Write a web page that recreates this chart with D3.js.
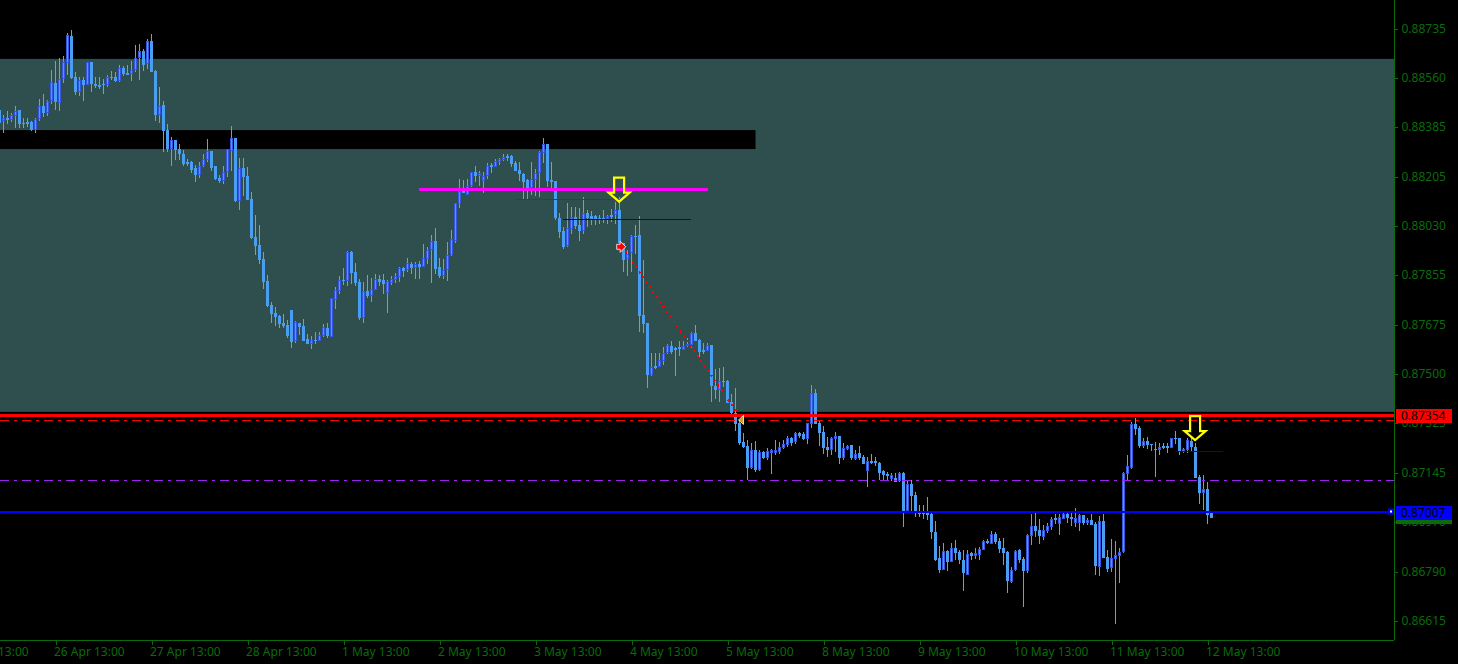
<!DOCTYPE html>
<html><head><meta charset="utf-8">
<script src="https://cdn.jsdelivr.net/npm/d3@7/dist/d3.min.js"></script>
<style>html,body{margin:0;padding:0;background:#000;overflow:hidden}svg{display:block}</style>
</head><body><svg id="c" width="1458" height="664"></svg>
<script>
// Prices are stored in 1e-5 units (88735 = 0.88735), one entry per hourly bar.
const opens=[88445,88406,88418,88409,88424,88445,88399,88402,88402,88373,88414,88459,88435,88476,88540,88471,88557,88614,88710,88562,88509,88552,88535,88617,88538,88534,88538,88535,88563,88563,88550,88595,88576,88575,88587,88630,88656,88611,88691,88584,88428,88463,88375,88305,88337,88304,88287,88258,88258,88237,88212,88244,88266,88298,88244,88201,88189,88223,88299,88344,88120,88237,88208,88125,87989,87961,87911,87832,87746,87717,87707,87682,87674,87728,87616,87682,87671,87624,87606,87623,87618,87635,87664,87633,87764,87796,87836,87832,87936,87864,87828,87700,87796,87778,87802,87839,87836,87789,87825,87836,87848,
87879,87872,87893,87879,87892,87884,87913,87944,87976,87883,87851,87872,87925,87977,88108,88161,88142,88171,88223,88209,88192,88209,88247,88242,88260,88267,88280,88280,88255,88230,88216,88193,88165,88194,88218,88292,88323,88194,88191,88058,88012,87958,88020,88061,88033,88013,88075,88065,88065,88058,88058,88055,88069,88069,88087,87970,87910,87932,87994,87997,87711,87682,87496,87528,87526,87547,87574,87600,87591,87595,87587,87600,87603,87646,87621,87585,87583,87603,87456,87442,87474,87474,
87399,87359,87323,87256,87242,87163,87227,87156,87220,87199,87215,87215,87220,87234,87246,87270,87256,87287,87285,87267,87320,87430,87323,87292,87237,87227,87267,87277,87199,87231,87244,87195,87216,87202,87152,87188,87188,87181,87152,87141,87123,87127,87116,87145,87009,87105,87066,87009,87005,87002,86998,86934,86840,86797,86865,86826,86876,86862,86833,86779,86858,86848,86851,86869,86901,86891,86926,86901,86876,86862,86754,86797,86869,86837,86794,86919,86955,86941,86916,86937,86951,86984,86962,86980,86998,86987,86966,86966,86994,86966,86977,
86962,86810,86972,86843,86805,86838,86849,86862,87143,87162,87321,87306,87243,87259,87248,87231,87227,87242,87242,87236,87269,87269,87219,87229,87260,87237,87130,87075,87087,87001];
const closes=[88397,88418,88409,88426,88443,88394,88394,88394,88373,88411,88461,88435,88476,88545,88473,88557,88617,88713,88559,88509,88552,88535,88617,88538,88531,88527,88534,88562,88558,88549,88594,88574,88570,88587,88630,88658,88607,88691,88582,88427,88461,88371,88304,88337,88301,88287,88251,88251,88230,88212,88246,88268,88297,88237,88199,88189,88224,88304,88344,88119,88236,88205,88122,87986,87957,87907,87830,87743,87715,87703,87678,87671,87635,87614,87685,87667,87618,87606,87621,87617,87639,87667,87635,87771,87800,87836,87831,87936,87861,87825,87700,87796,87778,87803,87839,87828,87821,87832,87839,87850,87879,
87867,87896,87879,87893,87883,87914,87944,87975,87876,87851,87872,87925,87983,88111,88154,88147,88171,88223,88209,88218,88208,88243,88240,88262,88268,88276,88274,88251,88228,88216,88188,88165,88197,88218,88294,88323,88192,88187,88058,88008,87953,88021,88061,88030,88012,88075,88057,88056,88056,88056,88055,88064,88062,88087,87968,87908,87930,87994,87990,87707,87679,87496,87525,87521,87550,87574,87603,87578,87587,87589,87599,87607,87645,87618,87578,87579,87605,87456,87442,87473,87471,87397,
87359,87320,87254,87238,87163,87227,87156,87220,87199,87222,87227,87227,87237,87249,87270,87254,87287,87277,87267,87323,87430,87320,87288,87234,87227,87270,87277,87199,87234,87242,87199,87213,87199,87177,87188,87181,87181,87145,87138,87134,87138,87113,87145,87009,87105,87062,87000,86998,86998,86994,86934,86833,86797,86865,86826,86876,86858,86833,86787,86855,86848,86858,86873,86901,86894,86926,86898,86873,86858,86758,86797,86865,86833,86794,86923,86955,86937,86919,86941,86955,86980,86977,86987,86998,86984,86980,86984,86994,86966,86977,86959,
86812,86972,86841,86802,86841,86850,86861,87144,87169,87321,87304,87242,87259,87247,87244,87227,87237,87236,87236,87269,87266,87224,87230,87262,87237,87128,87075,87087,86995,86984];
const highs=[88445,88426,88440,88435,88459,88445,88416,88416,88406,88416,88484,88502,88480,88588,88620,88632,88638,88719,88731,88581,88562,88562,88617,88617,88562,88562,88557,88569,88584,88582,88605,88602,88606,88621,88676,88681,88664,88698,88717,88588,88527,88477,88394,88348,88337,88323,88301,88268,88262,88249,88258,88286,88341,88298,88244,88212,88244,88304,88387,88344,88273,88273,88240,88151,88068,88033,87936,87854,87757,87740,87710,87714,87692,87728,87689,87682,87696,87642,87635,87649,87649,87678,87682,87771,87811,87850,87879,87940,87940,87897,87839,87828,87854,87843,87857,87854,87857,87836,87850,87861,87883,
87884,87915,87901,87901,87905,87965,87953,87999,88022,87916,87910,87972,88015,88111,88197,88194,88197,88223,88245,88228,88224,88255,88254,88271,88273,88288,88288,88284,88264,88259,88221,88199,88259,88233,88297,88345,88323,88259,88191,88075,88027,88111,88096,88096,88094,88132,88087,88082,88068,88070,88087,88070,88092,88114,88135,87970,87944,87996,88033,88065,87908,87682,87574,87574,87576,87597,87606,87619,87597,87619,87619,87627,87650,87675,87624,87609,87609,87603,87519,87521,87525,87478,
87428,87449,87335,87287,87263,87251,87259,87227,87225,87234,87232,87263,87256,87263,87277,87273,87292,87293,87293,87325,87460,87446,87335,87313,87275,87275,87292,87277,87251,87244,87244,87227,87242,87211,87201,87213,87201,87184,87156,87148,87144,87144,87148,87148,87120,87120,87077,87030,87030,87059,87005,86973,86883,86893,86869,86893,86905,86869,86869,86869,86862,86876,86879,86905,86910,86936,86935,86912,86912,86865,86808,86869,86873,86845,86925,86998,87000,86979,86957,86965,86986,86998,86998,87003,87005,87000,87019,86998,86994,86984,86998,
86971,86991,86998,86869,86908,86900,86875,87150,87210,87329,87341,87313,87269,87273,87249,87257,87254,87254,87251,87270,87296,87269,87235,87272,87269,87251,87138,87138,87113,87001];
const lows=[88383,88363,88394,88402,88380,88380,88380,88383,88371,88363,88406,88421,88423,88466,88445,88442,88543,88570,88557,88500,88495,88477,88535,88509,88523,88521,88502,88528,88554,88545,88545,88566,88570,88547,88582,88552,88586,88593,88581,88406,88399,88294,88295,88244,88266,88266,88246,88246,88218,88187,88201,88242,88258,88227,88196,88182,88180,88206,88225,88116,88086,88137,88122,87984,87926,87893,87805,87740,87683,87673,87663,87666,87630,87592,87611,87639,87617,87606,87588,87606,87616,87633,87628,87632,87732,87786,87818,87814,87821,87814,87692,87682,87771,87757,87800,87814,87786,87717,87818,87824,87828,
87848,87865,87858,87841,87841,87884,87893,87827,87858,87842,87839,87834,87922,87970,88094,88147,88140,88168,88187,88173,88149,88197,88221,88242,88249,88261,88264,88242,88225,88192,88128,88125,88140,88137,88135,88254,88168,88159,88051,87987,87948,87956,88001,88020,87975,88001,88027,88032,88034,88037,88039,88037,88044,88037,87968,87866,87851,87866,87929,87650,87648,87449,87492,87519,87523,87532,87571,87571,87492,87564,87585,87597,87591,87616,87562,87571,87581,87399,87411,87399,87454,87394,
87353,87297,87246,87233,87120,87158,87150,87151,87194,87191,87141,87211,87213,87230,87239,87242,87249,87269,87263,87249,87306,87320,87242,87213,87202,87209,87221,87177,87191,87227,87191,87191,87191,87177,87096,87177,87170,87120,87120,87117,87117,87113,87113,86953,87009,87009,86986,86988,86979,86977,86910,86831,86788,86797,86793,86826,86833,86819,86723,86779,86833,86838,86833,86869,86891,86891,86891,86857,86815,86716,86752,86793,86821,86666,86788,86887,86917,86891,86905,86929,86941,86962,86923,86979,86965,86955,86953,86937,86957,86957,86959,
86780,86776,86841,86792,86792,86604,86752,86857,87120,87158,87282,87235,87233,87232,87222,87132,87211,87230,87218,87233,87249,87211,87216,87216,87224,87127,87034,87013,86962,86984];

const priceTicks=[88735,88560,88385,88205,88030,87855,87675,87500,87325,87145,86970,86790,86615];
const timeBars=[-10,14,38,62,86,110,134,158,182,206,230,254,278,302];
const timeLabels=["25 Apr 13:00","26 Apr 13:00","27 Apr 13:00","28 Apr 13:00","1 May 13:00","2 May 13:00","3 May 13:00","4 May 13:00","5 May 13:00","8 May 13:00","9 May 13:00","10 May 13:00","11 May 13:00","12 May 13:00"];

const zoneTop=88628, zoneBottom=87364, gapTop=88373, gapBottom=88305, gapEndBar=189;
const resistance=87354, support=87007, dashRed=87332, dashPurple=87118;

const x=d3.scaleLinear().domain([0,303]).range([-0.5,1211.5]);
const y=d3.scaleLinear().domain([88735,86615]).range([29,621]);
const plotW=1394, plotH=640;
const axisColor="#0b6b0b", wickColor="#6c9bf0", bodyColor="#4a9ef2", rimColor="#3357e0";
const font="'Noto Sans'";

const svg=d3.select("#c");
svg.append("rect").attr("width",1458).attr("height",664).attr("fill","#000");
const plot=svg.append("g");
plot.append("rect").attr("x",0).attr("width",plotW).attr("y",y(zoneTop)).attr("height",y(zoneBottom)-y(zoneTop)).attr("fill","#2f4f4f");
plot.append("rect").attr("x",0).attr("width",x(gapEndBar)).attr("y",y(gapTop)).attr("height",y(gapBottom)-y(gapTop)).attr("fill","#000");

// candles
const bars=d3.range(opens.length);
const cg=plot.append("g").attr("shape-rendering","crispEdges");
cg.selectAll("rect.w").data(bars).join("rect").attr("class","w")
  .attr("x",i=>x(i)-0.5).attr("width",1)
  .attr("y",i=>Math.round(y(highs[i]))).attr("height",i=>Math.max(1,Math.round(y(lows[i]))-Math.round(y(highs[i]))))
  .attr("fill",wickColor);
const bodyTop=i=>Math.round(y(Math.max(opens[i],closes[i])));
const bodyBot=i=>Math.round(y(Math.min(opens[i],closes[i])));
cg.selectAll("rect.b").data(bars).join("rect").attr("class","b")
  .attr("x",i=>x(i)-1.5).attr("width",3)
  .attr("y",bodyTop).attr("height",i=>Math.max(1,bodyBot(i)-bodyTop(i)))
  .attr("fill",i=>closes[i]>opens[i]?rimColor:bodyColor);
cg.selectAll("rect.i").data(bars.filter(i=>closes[i]>opens[i]&&bodyBot(i)-bodyTop(i)>2)).join("rect").attr("class","i")
  .attr("x",i=>x(i)-0.5).attr("width",1)
  .attr("y",i=>bodyTop(i)+1).attr("height",i=>bodyBot(i)-bodyTop(i)-2)
  .attr("fill",bodyColor);

// thin trend objects
const seg=(b0,p0,b1,p1,col,w,dash)=>plot.append("line").attr("x1",x(b0)).attr("x2",x(b1)).attr("y1",y(p0)).attr("y2",y(p1)).attr("stroke",col).attr("stroke-width",w).attr("stroke-dasharray",dash||null);
seg(128.9,88125,156.9,88125,"#c80000",1).attr("shape-rendering","crispEdges");
seg(140.9,88053,172.9,88053,"#0000c8",1).attr("shape-rendering","crispEdges");
seg(293.9,87222,305.9,87222,"#0000c8",1).attr("shape-rendering","crispEdges");
seg(155.1,87695,156.9,87695,"#e00000",1).attr("shape-rendering","crispEdges");
seg(155.6,87955,185,87349,"#ff0000",2,"2 4").attr("shape-rendering","crispEdges");
seg(104.9,88160,177.1,88160,"#ff00ff",3).attr("shape-rendering","crispEdges");

// full width levels
const level=(p,col,w,dash,dy)=>plot.append("line").attr("x1",0).attr("x2",plotW).attr("y1",y(p)+(dy||0)).attr("y2",y(p)+(dy||0)).attr("stroke",col).attr("stroke-width",w).attr("stroke-dasharray",dash||null).attr("shape-rendering","crispEdges");
level(dashRed,"#ff0000",1,"9 5 3 5");
level(dashPurple,"#a020f0",1,"9 5 3 5");
level(resistance,"#ff0000",3,null,0.7);
level(support,"#0000ff",2);

// arrows
const downArrow=(bar,price)=>plot.append("path")
  .attr("transform",`translate(${x(bar)},${y(price)})`)
  .attr("d","M0,-1 L-10.5,-10 L-5,-10 L-5,-25 L5,-25 L5,-10 L10.5,-10 Z")
  .attr("fill","none").attr("stroke","#ffff00").attr("stroke-width",2.2);
downArrow(154.9,88113);
downArrow(298.9,87259);
plot.append("path").attr("transform",`translate(${x(155.3)},${y(87955)})`)
  .attr("d","M-4,-2.5 L-0.5,-2.5 L-0.5,-5.5 L5,0 L-0.5,5.5 L-0.5,2.5 L-4,2.5 Z").attr("fill","#ff0000").attr("stroke","#fff").attr("stroke-width",.8);
plot.append("path").attr("transform",`translate(${x(186)},${y(87335)})`)
  .attr("d","M-5,0 L0,-4.5 L0,4.5 Z").attr("fill","#d89a20").attr("stroke","#fff").attr("stroke-width",.8);
const handle=plot.append("g").attr("transform",`translate(1391,${y(support)})`);
handle.append("rect").attr("x",-3).attr("y",-3).attr("width",6).attr("height",6).attr("fill","#0000ff");
handle.append("rect").attr("x",-1).attr("y",-1).attr("width",2).attr("height",2).attr("fill","#fff");

// price label under tick texts
svg.append("rect").attr("x",1396).attr("y",y(support)).attr("width",56).attr("height",12.5).attr("fill","#0b6b0b");

// axes
const yAxis=d3.axisRight(y).tickValues(priceTicks).tickSize(3).tickPadding(4).tickFormat(d=>(d/1e5).toFixed(5));
const ya=svg.append("g").attr("transform",`translate(${plotW+0.5},0)`).call(yAxis);
ya.select(".domain").attr("d",`M0,0V${plotH}`);
const xAxis=d3.axisBottom(x).tickValues(timeBars).tickSize(4).tickPadding(3).tickFormat((d,i)=>timeLabels[i]);
const xa=svg.append("g").attr("transform",`translate(0,${plotH+0.5})`).call(xAxis);
xa.select(".domain").attr("d",`M0,0H${plotW}`);
xa.selectAll("text").attr("text-anchor","start").attr("x",-2);
svg.selectAll(".tick line,.domain").attr("stroke",axisColor).attr("shape-rendering","crispEdges");
svg.selectAll(".tick text").attr("fill",axisColor).attr("font-family",font).attr("font-size",12);

// value tags
const tag=(p,col,txt)=>{
  svg.append("rect").attr("x",1396).attr("y",Math.round(y(p))-6).attr("width",56).attr("height",14).attr("fill",col);
  svg.append("text").attr("x",1401).attr("y",Math.round(y(p))+1).attr("dy","0.32em").attr("fill","#000").attr("font-family",font).attr("font-size",12).text(txt);
};
tag(resistance,"#ff0000",(resistance/1e5).toFixed(5));
tag(support,"#0000ff",(support/1e5).toFixed(5));
</script></body></html>
